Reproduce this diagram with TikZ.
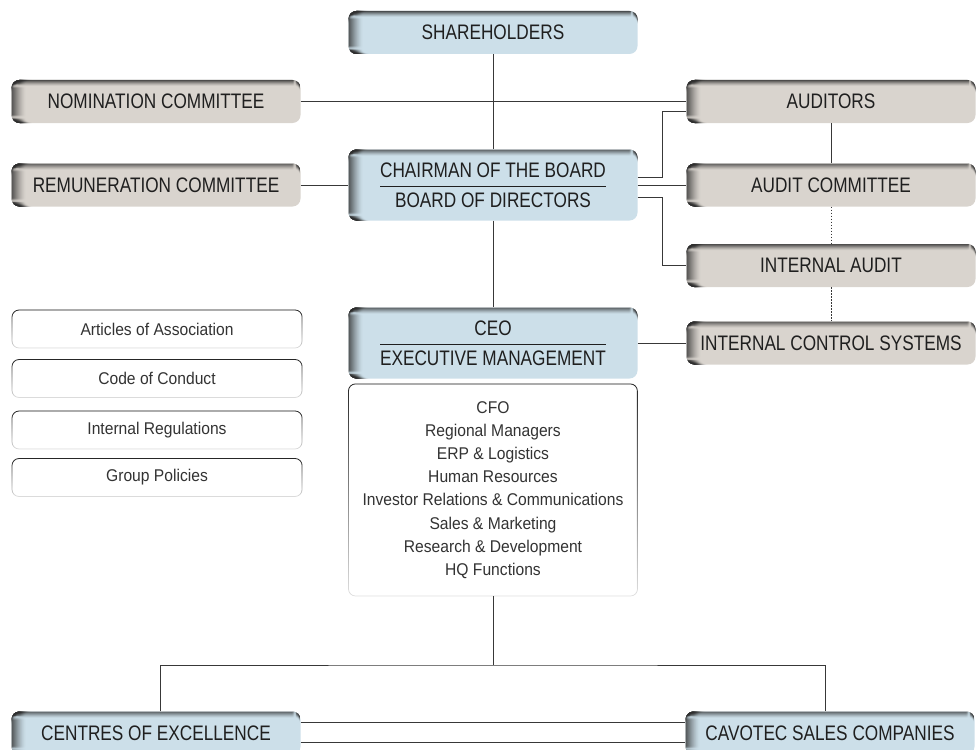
\documentclass[tikz,border=0pt]{standalone}
\usepackage{fontspec}
\setmainfont{Liberation Sans}[FakeStretch=0.82]
\newfontfamily\listfont{Liberation Sans}[FakeStretch=0.92]
\usetikzlibrary{fadings}
\definecolor{boardblue}{HTML}{CCDFE9}
\definecolor{cttegrey}{HTML}{D9D4CE}
\definecolor{edgegrey}{HTML}{2E2E2E}
\definecolor{linkgrey}{HTML}{383838}
\newcommand\splitlabel[2]{\begin{tabular}{@{}c@{}}\rule{0pt}{22pt}#1\\[2pt]\hline\rule{0pt}{21pt}#2\end{tabular}}
% dark bevel along the left and top edges
\newcommand\bevel{%
  \foreach \i in {0,...,13}{%
    \pgfmathsetmacro\op{0.95*(1-\i/14)^1.6}
    \fill[edgegrey,opacity=\op] ([xshift=\i pt]path picture bounding box.south west) rectangle ([xshift=\i pt+1pt]path picture bounding box.north west);}
  \foreach \j in {0,...,5}{%
    \pgfmathsetmacro\op{0.8*(1-\j/6)^1.4}
    \fill[edgegrey,opacity=\op] ([yshift=-\j pt]path picture bounding box.north west) rectangle ([yshift=-\j pt-1pt]path picture bounding box.north east);}}
\tikzset{
  shadebox/.style={rounded corners=8pt,fill=#1,minimum width=289pt,minimum height=43pt,inner sep=0pt,
    font=\fontsize{21}{24}\selectfont,text=black!88,path picture={\bevel}},
  bluebox/.style={shadebox=boardblue},
  greybox/.style={shadebox=cttegrey},
  docbox/.style={rounded corners=7pt,fill=white,draw=black!12,line width=0.7pt,minimum width=290pt,minimum height=38pt,
    inner sep=0pt,font=\listfont\fontsize{17}{20}\selectfont,text=black!80,
    postaction={draw=black!85,line width=0.8pt,path fading=south}},
  link/.style={draw=linkgrey,line width=0.9pt},
  dotlink/.style={link,line width=0.7pt,dash pattern=on 1.6pt off 1.4pt},
}
\begin{document}
\begin{tikzpicture}[x=1pt,y=-1pt]
\useasboundingbox (0,0) rectangle (976,749);
% board level
\node[bluebox] (share) at (493,32.5) {SHAREHOLDERS};
\node[greybox] (nomcom) at (156,101.5) {NOMINATION COMMITTEE};
\node[greybox] (auditors) at (831,101.5) {AUDITORS};
\node[bluebox,minimum height=71pt] (chair) at (493,185) {\splitlabel{CHAIRMAN OF THE BOARD}{BOARD OF DIRECTORS}};
\node[greybox] (remcom) at (156,185) {REMUNERATION COMMITTEE};
\node[greybox] (audcom) at (831,185) {AUDIT COMMITTEE};
\node[greybox] (intaud) at (831,265.5) {INTERNAL AUDIT};
% management level
\node[bluebox,minimum height=71pt] (ceo) at (493,343) {\splitlabel{CEO}{EXECUTIVE MANAGEMENT}};
\node[greybox] (ics) at (831,343) {INTERNAL CONTROL SYSTEMS};
\node[docbox,minimum width=289pt,minimum height=212pt,align=center,font=\listfont\fontsize{17}{23.2}\selectfont] (mgmt) at (493,490)
  {CFO\\Regional Managers\\ERP \& Logistics\\Human Resources\\Investor Relations \& Communications\\Sales \& Marketing\\Research \& Development\\HQ Functions};
% governing documents
\node[docbox] (articles) at (157,329) {Articles of Association};
\node[docbox] (conduct) at (157,378.5) {Code of Conduct};
\node[docbox] (regs) at (157,430) {Internal Regulations};
\node[docbox] (policies) at (157,477.5) {Group Policies};
% operations
\node[bluebox] (coe) at (156,733) {CENTRES OF EXCELLENCE};
\node[bluebox] (csc) at (830,733) {CAVOTEC SALES COMPANIES};
\coordinate (fork) at (493,665);
% connectors
\draw[link] (share) -- (chair);
\draw[link] (nomcom) -- (auditors);
\draw[link] (remcom) -- (chair);
\draw[link] (chair) -- (audcom);
\draw[link] ([yshift=8pt]chair.east) -- ++(25,0) |- ([yshift=-10pt]auditors.west);
\draw[link] ([yshift=-12pt]chair.east) -- ++(25,0) |- (intaud.west);
\draw[link] (auditors) -- (audcom);
\draw[dotlink] (audcom) -- (intaud);
\draw[dotlink] (intaud) -- (ics);
\draw[link] (chair) -- (ceo);
\draw[link] (ceo) -- (ics);
\draw[link] (mgmt) -- (fork);
\draw[link] ([xshift=4pt]coe.north) |- (fork) -| ([xshift=-5pt]csc.north);
\draw[link] ([yshift=10.5pt]coe.east) -- ([yshift=10.5pt]csc.west);
\draw[link] ([yshift=-9pt]coe.east) -- ([yshift=-9pt]csc.west);
\end{tikzpicture}
\end{document}
